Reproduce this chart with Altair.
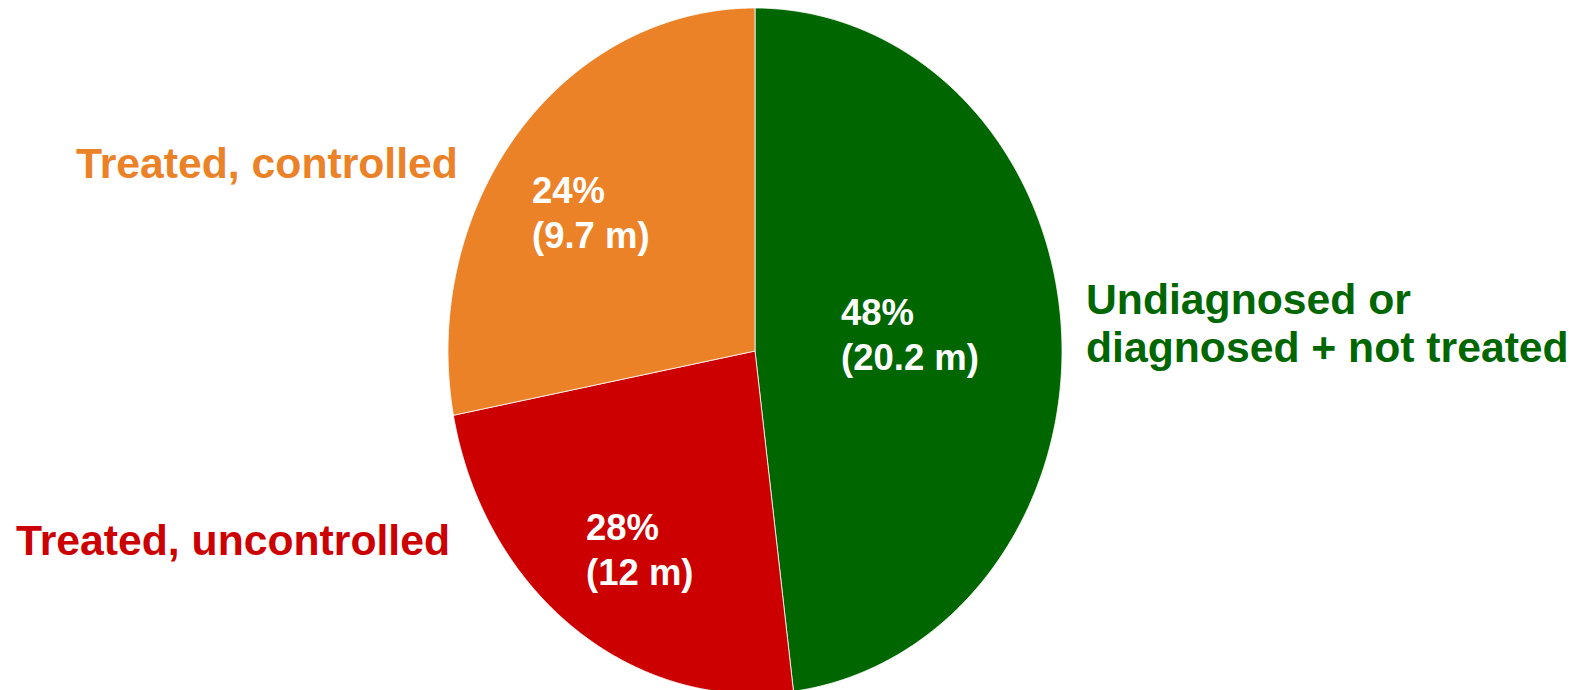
import altair as alt
import pandas as pd

# ---- data ----
categories = ["Undiagnosed or diagnosed + not treated", "Treated, uncontrolled", "Treated, controlled"]
# angular share (%) of each slice as drawn, clockwise from 12 o'clock
slice_share = [48, 24, 28]
slice_colors = ["#006600", "#CC0000", "#EC8228"]
pct_labels = ["48%", "28%", "24%"]
amount_labels = ["(20.2 m)", "(12 m)", "(9.7 m)"]
side_labels = [["Undiagnosed or", "diagnosed + not treated"],
               ["Treated, uncontrolled"],
               ["Treated, controlled"]]

# ---- wedge outline rows (one row per outline step, geometry computed by Vega-Lite) ----
STEPS = 240
total = sum(slice_share)
rows = []
start = 0
for i, (cat, share) in enumerate(zip(categories, slice_share)):
    for k in range(STEPS + 3):
        rows.append({"category": cat, "start": start, "share": share, "k": k})
    start += share
wedges = pd.DataFrame(rows)

pie = (
    alt.Chart(wedges)
    .transform_calculate(
        t=f"clamp((datum.k - 1) / {STEPS}, 0, 1)",
        ang=f"2 * PI * (datum.start + datum.share * datum.t) / {total}",
        r=f"(datum.k == 0 || datum.k == {STEPS + 2}) ? 0 : 1",
        px="datum.r * sin(datum.ang)",
        py="datum.r * cos(datum.ang)",
    )
    .mark_line(stroke="white", strokeWidth=0.8, strokeJoin="round")
    .encode(
        x=alt.X("px:Q", scale=alt.Scale(domain=[-1, 1], range=[448, 1062], nice=False, zero=False), axis=None),
        y=alt.Y("py:Q", scale=alt.Scale(domain=[-1, 1], range=[694, 8], nice=False, zero=False), axis=None),
        order=alt.Order("k:Q"),
        detail="category:N",
        fill=alt.Fill("category:N", scale=alt.Scale(domain=categories, range=slice_colors), legend=None),
    )
)

one = pd.DataFrame({"_": [0]})


def label(lines, x, y, color, size, lh):
    return (
        alt.Chart(one)
        .mark_text(align="left", baseline="alphabetic", font="Liberation Sans", fontWeight="bold",
                   fontSize=size, lineHeight=lh, color=color)
        .encode(x=alt.value(x), y=alt.value(y), text=alt.value(lines))
    )


layers = [
    pie,
    label([pct_labels[0], amount_labels[0]], 841, 325, "white", 36.5, 45),
    label([pct_labels[1], amount_labels[1]], 586, 540, "white", 36.5, 45),
    label([pct_labels[2], amount_labels[2]], 532, 203, "white", 36.5, 45),
    label(side_labels[0], 1086, 314, slice_colors[0], 42.7, 48),
    label(side_labels[1], 16, 555, slice_colors[1], 42.7, 48),
    label(side_labels[2], 76, 178, slice_colors[2], 42.7, 48),
]

chart = (
    alt.layer(*layers)
    .properties(width=1576, height=690, padding=0, autosize=alt.AutoSizeParams(type="none"),
                background="white")
    .configure_view(stroke=None)
)

chart.save("out.html", embed_options={"renderer": "svg", "actions": False})
